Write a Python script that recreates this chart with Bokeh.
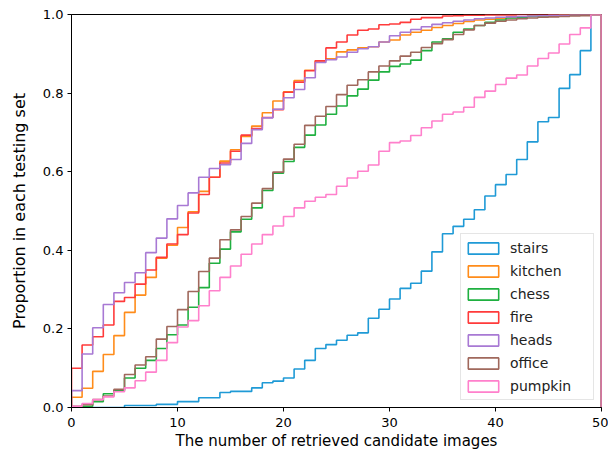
import numpy as np
from bokeh.plotting import figure
from bokeh.models import FixedTicker, NumeralTickFormatter, Legend, LegendItem, Range1d
from bokeh.embed import file_html
from bokeh.resources import INLINE

# bin edges of the cumulative step histograms (number of retrieved candidate images)
bin_edges = list(range(0, 51))

series_names = ["stairs", "kitchen", "chess", "fire", "heads", "office", "pumpkin"]
series_colors = ["#1f9ad6", "#ff8c1a", "#1fb040", "#ff3b3b", "#a879d4", "#a0685c", "#ff80cc"]

stairs = [0, 0, 0, 0, 0, .005, .005, .005, .008, .008,
          .015, .015, .025, .025, .038, .041, .041, .050, .063, .067,
          .075, .098, .120, .150, .160, .171, .184, .190, .227, .250,
          .276, .303, .316, .347, .396, .442, .461, .479, .503, .538,
          .567, .593, .631, .676, .727, .738, .812, .847, .908, 1.0]
kitchen = [.026, .049, .092, .135, .183, .242, .286, .331, .380, .413,
           .458, .498, .550, .586, .627, .656, .690, .716, .750, .780,
           .803, .832, .858, .882, .887, .905, .910, .915, .918, .930,
           .935, .948, .955, .960, .967, .972, .977, .982, .986, .988,
           .990, .992, .994, .996, .997, .998, .999, .999, 1.0, 1.0]
chess = [0.0, .003, .015, .035, .043, .075, .100, .120, .150, .185,
         .210, .255, .305, .367, .403, .447, .479, .508, .552, .596,
         .626, .662, .693, .719, .746, .767, .793, .810, .833, .854,
         .868, .874, .884, .908, .930, .938, .955, .963, .972, .980,
         .986, .991, .993, .995, .996, .997, .998, .999, 1.0, 1.0]
fire = [.100, .159, .180, .210, .270, .280, .314, .350, .382, .416,
        .440, .495, .542, .586, .622, .652, .693, .710, .738, .758,
        .802, .828, .857, .882, .915, .930, .948, .960, .963, .974,
        .976, .980, .988, .992, .992, .996, .997, .998, .998, .999,
        .999, .999, 1.0, 1.0, 1.0, 1.0, 1.0, 1.0, 1.0, 1.0]
heads = [.043, .136, .203, .262, .292, .318, .343, .394, .431, .480,
         .514, .546, .586, .608, .618, .631, .672, .707, .737, .759,
         .788, .809, .839, .878, .885, .892, .904, .913, .918, .930,
         .946, .955, .962, .969, .975, .979, .983, .986, .989, .991,
         .993, .994, .995, .996, .997, .998, .998, .999, .999, 1.0]
office = [.003, .007, .020, .029, .046, .084, .108, .129, .174, .206,
          .249, .295, .346, .380, .427, .452, .486, .520, .557, .599,
          .632, .670, .718, .741, .766, .796, .820, .834, .854, .869,
          .882, .894, .904, .916, .926, .936, .949, .961, .972, .978,
          .983, .986, .989, .991, .993, .994, .995, .996, .997, 1.0]
pumpkin = [.003, .010, .020, .027, .040, .050, .068, .090, .120, .165,
           .205, .221, .259, .297, .331, .360, .390, .416, .440, .462,
           .486, .508, .525, .535, .542, .563, .584, .601, .617, .652,
           .674, .678, .692, .712, .729, .746, .752, .764, .789, .805,
           .822, .838, .846, .869, .888, .902, .925, .949, .966, 1.0]

x_ticks = [0, 10, 20, 30, 40, 50]
y_ticks = [0.0, 0.2, 0.4, 0.6, 0.8, 1.0]

all_series = [stairs, kitchen, chess, fire, heads, office, pumpkin]

FONT = "DejaVu Sans"

p = figure(width=608, height=452, output_backend="svg", toolbar_location=None,
           x_range=Range1d(0, 50), y_range=Range1d(0, 1.0),
           min_border_left=71, min_border_right=7, min_border_top=14, min_border_bottom=43)
p.background_fill_color = "white"
p.border_fill_color = "white"
p.outline_line_color = "black"
p.outline_line_width = 1
p.outline_line_alpha = 1
p.xgrid.visible = False
p.ygrid.visible = False

edges = np.array(bin_edges, dtype=float)
items = []
for name, color, vals in zip(series_names, series_colors, all_series):
    v = np.array(vals, dtype=float)
    xs = np.repeat(edges, 2)
    ys = np.concatenate([[0.0], np.repeat(v, 2), [0.0]])
    p.line(xs, ys, line_color=color, line_width=1.6)
    # legend proxy: an unfilled box with no drawable extent (NaN), only used by the legend
    proxy = p.quad(left=[np.nan], right=[np.nan], top=[np.nan], bottom=[np.nan],
                   fill_color=None, line_color=color, line_width=1.6)
    items.append(LegendItem(label=name, renderers=[proxy]))

legend = Legend(items=items, location="bottom_right", margin=7, padding=3,
                glyph_width=38, glyph_height=14, label_standoff=8,
                label_height=21, label_width=80, spacing=2,
                label_text_font=FONT, label_text_font_size="14px",
                label_text_color="#222222",
                border_line_color="#cccccc", border_line_width=1,
                background_fill_color="white", background_fill_alpha=0.85)
p.add_layout(legend, "center")

p.xaxis.ticker = FixedTicker(ticks=x_ticks)
p.yaxis.ticker = FixedTicker(ticks=y_ticks)
p.yaxis.formatter = NumeralTickFormatter(format="0.0")

for ax in (p.xaxis, p.yaxis):
    ax.axis_line_color = "black"
    ax.major_tick_line_color = "black"
    ax.major_tick_out = 4
    ax.major_tick_in = 0
    ax.minor_tick_line_color = None
    ax.major_label_text_font = FONT
    ax.major_label_text_font_size = "13px"
    ax.major_label_text_color = "black"
    ax.axis_label_text_font = FONT
    ax.axis_label_text_font_style = "normal"
    ax.axis_label_text_color = "black"

p.xaxis.axis_label = "The number of retrieved candidate images"
p.xaxis.axis_label_text_font_size = "15px"
p.xaxis.major_label_standoff = 6
p.xaxis.axis_label_standoff = 2

p.yaxis.axis_label = "Proportion in each testing set"
p.yaxis.axis_label_text_font_size = "16px"
p.yaxis.major_label_standoff = 4
p.yaxis.axis_label_standoff = 11

open("out.html", "w").write(file_html(p, INLINE))
